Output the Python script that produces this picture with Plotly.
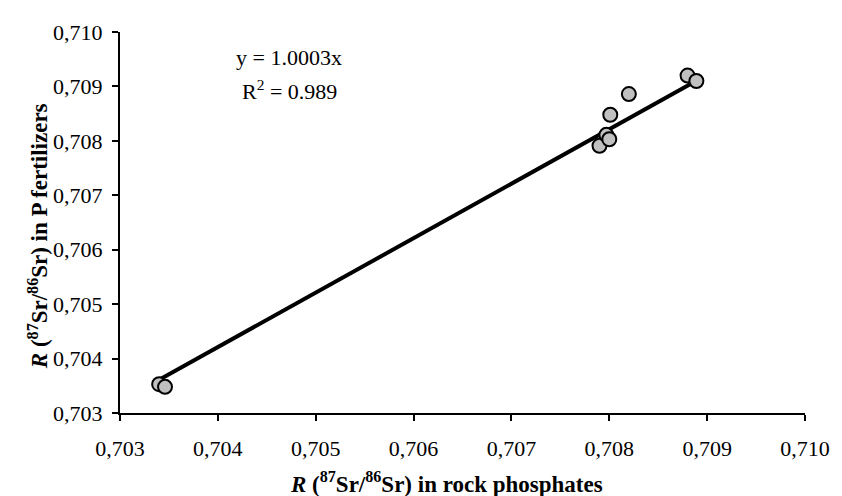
import plotly.graph_objects as go

# data
rock_phosphates = [0.70340, 0.70346, 0.70790, 0.70797, 0.70800, 0.70801, 0.70820, 0.70880, 0.70889]
p_fertilizers = [0.70353, 0.70348, 0.70791, 0.70811, 0.70803, 0.70848, 0.70886, 0.70920, 0.70910]
slope = 1.0003
r_squared = 0.989
tick_vals = [0.703, 0.704, 0.705, 0.706, 0.707, 0.708, 0.709, 0.710]
x_title = "<b><i>R</i> (<sup>87</sup>Sr/<sup>86</sup>Sr) in rock phosphates</b>"
y_title = "<b><i>R</i> (<sup>87</sup>Sr/<sup>86</sup>Sr) in P fertilizers</b>"

x_line = [min(rock_phosphates), max(rock_phosphates)]
y_line = [slope * v for v in x_line]

font = "Liberation Serif, Times New Roman, serif"

fig = go.Figure()
fig.add_trace(go.Scatter(
    x=x_line, y=y_line, mode="lines",
    line=dict(color="black", width=4), showlegend=False, hoverinfo="skip"))
fig.add_trace(go.Scatter(
    x=rock_phosphates, y=p_fertilizers, mode="markers",
    marker=dict(size=14, color="#c0c0c0", line=dict(color="black", width=2)),
    showlegend=False))

axis_common = dict(
    range=[0.703, 0.710], tickvals=tick_vals, tickformat=".3f",
    showgrid=False, zeroline=False, showline=True, linecolor="black", linewidth=2,
    ticks="outside", ticklen=6, tickwidth=2, tickcolor="black",
    tickfont=dict(family=font, size=22, color="black"),
)

# plot area in page pixels: x 120..817, y 24..413 (page has 8px body margin)
W0, H0 = 697, 389

fig.update_layout(
    width=834, height=488,
    margin=dict(l=112, r=25, t=16, b=83),
    paper_bgcolor="white", plot_bgcolor="white",
    separators=",.",
    font=dict(family=font, color="black"),
    xaxis=dict(axis_common, ticklabelstandoff=9),
    yaxis=dict(axis_common, ticklabelstandoff=5),
)

fig.add_annotation(xref="paper", yref="paper", x=(452 - 120) / W0, y=(413 - 484) / H0,
                   xanchor="center", yanchor="middle", text=x_title, showarrow=False,
                   font=dict(family=font, size=23, color="black"))
fig.add_annotation(xref="paper", yref="paper", x=(37 - 120) / W0, y=(413 - 232) / H0,
                   xanchor="center", yanchor="middle", textangle=-90, text=y_title,
                   showarrow=False, font=dict(family=font, size=23, color="black"))

fig.add_annotation(xref="paper", yref="paper", x=(292 - 120) / W0, y=(413 - 50) / H0,
                   xanchor="center", yanchor="middle",
                   text=f"y = {slope:.4f}x", showarrow=False,
                   font=dict(family=font, size=22, color="black"))
fig.add_annotation(xref="paper", yref="paper", x=(292 - 120) / W0, y=(413 - 83) / H0,
                   xanchor="center", yanchor="middle",
                   text=f"R<sup>2</sup> = {r_squared}", showarrow=False,
                   font=dict(family=font, size=22, color="black"))

fig.write_html("out.html")
